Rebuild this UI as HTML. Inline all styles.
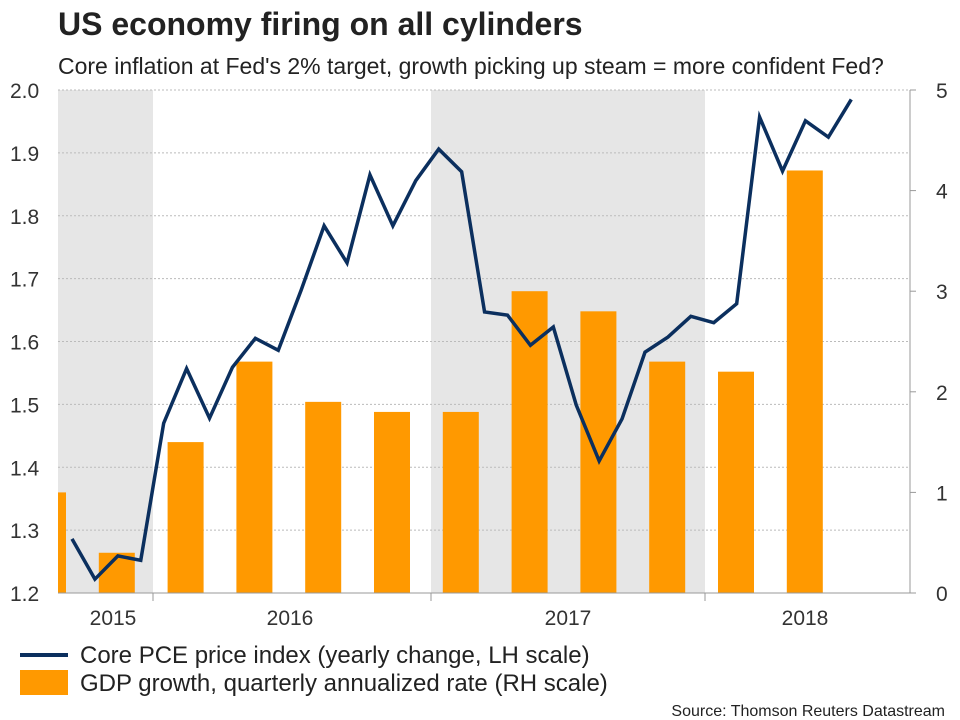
<!DOCTYPE html>
<html><head><meta charset="utf-8"><style>
body{margin:0;background:#fff;}
svg{display:block;font-family:"Liberation Sans",Arial,sans-serif;}
</style></head><body>
<svg width="960" height="720" viewBox="0 0 960 720">
<g id="bg"></g><g id="grid"></g><g id="bars"></g><g id="line"></g><g id="axes"></g>
<text x="58" y="35" font-size="32" font-weight="bold" fill="#222">US economy firing on all cylinders</text>
<text x="58" y="74" font-size="23" fill="#222">Core inflation at Fed's 2% target, growth picking up steam = more confident Fed?</text>
<line x1="20" y1="655" x2="68" y2="655" stroke="#0b2f5e" stroke-width="4"/>
<text x="80" y="663" font-size="24" fill="#222">Core PCE price index (yearly change, LH scale)</text>
<rect x="20" y="670" width="48" height="25" fill="#ff9900"/>
<text x="80" y="691" font-size="24" fill="#222">GDP growth, quarterly annualized rate (RH scale)</text>
<text x="945" y="716" font-size="16" fill="#222" text-anchor="end">Source: Thomson Reuters Datastream</text>
</svg>
<script>
const pce=[1.286,1.222,1.259,1.252,1.47,1.557,1.478,1.559,1.605,1.586,1.682,1.784,1.725,1.865,1.784,1.856,1.906,1.87,1.647,1.642,1.594,1.623,1.499,1.41,1.477,1.583,1.607,1.64,1.63,1.66,1.957,1.871,1.951,1.925,1.985];
const gdp=[1.0,0.4,1.5,2.3,1.9,1.8,1.8,3.0,2.8,2.3,2.2,4.2];
const leftTicks=[1.2,1.3,1.4,1.5,1.6,1.7,1.8,1.9,2.0];
const rightTicks=[0,1,2,3,4,5];
const years=["2015","2016","2017","2018"];
const L=58,R=910,T=90,B=593;
const yL=v=>B-(v-1.2)/0.8*(B-T);
const yR=v=>B-v/5*(B-T);
const xM=i=>72+i*22.92;
const xQ=i=>48+i*68.8;
const ns="http://www.w3.org/2000/svg";
function mk(p,t,a){const e=document.createElementNS(ns,t);for(const k in a)e.setAttribute(k,a[k]);document.getElementById(p).appendChild(e);return e;}
let s1=mk('bg','rect',{x:L,y:T,width:153-L,height:B-T,fill:'#e6e6e6'});


let s2=mk('bg','rect',{x:431,y:T,width:705-431,height:B-T,fill:'#e6e6e6'});


leftTicks.forEach(v=>{
 const g=mk('grid','line',{x1:L,x2:R,y1:yL(v),y2:yL(v),stroke:'#bbb','stroke-dasharray':'2,2'});
 
 
 const t=mk('axes','text',{x:10,y:yL(v)+8,'font-size':21,fill:'#333'});t.textContent=v.toFixed(1);
 
 
});
rightTicks.forEach(v=>{
 mk('axes','line',{x1:R,x2:R+6,y1:yR(v),y2:yR(v),stroke:'#999'});
 const t=mk('axes','text',{x:936,y:yR(v)+8,'font-size':21,fill:'#333'});t.textContent=v;
 
 
});
let ax=mk('axes','line',{x1:R,x2:R,y1:T,y2:B,stroke:'#999'});


let bx=mk('axes','line',{x1:L,x2:R,y1:B,y2:B,stroke:'#999'});


[153,431,705].forEach(x=>mk('axes','line',{x1:x,x2:x,y1:B,y2:B+8,stroke:'#999'}));
const yx=[113,290,568,805];
years.forEach((y,i)=>{const t=mk('axes','text',{x:yx[i],y:625,'font-size':21,fill:'#333','text-anchor':'middle'});t.textContent=y;
 
 });
gdp.forEach((v,i)=>{
 let x=xQ(i)-18,w=36;if(x<L){w-=L-x;x=L;}
 const b=mk('bars','rect',{x:x,y:yR(v),width:w,height:B-yR(v),fill:'#ff9900'});
 
 
});
const pl=mk('line','polyline',{points:pce.map((v,i)=>xM(i)+','+yL(v)).join(' '),fill:'none',stroke:'#0b2f5e','stroke-width':3.5,'stroke-linejoin':'miter'});


</script>
</body></html>
